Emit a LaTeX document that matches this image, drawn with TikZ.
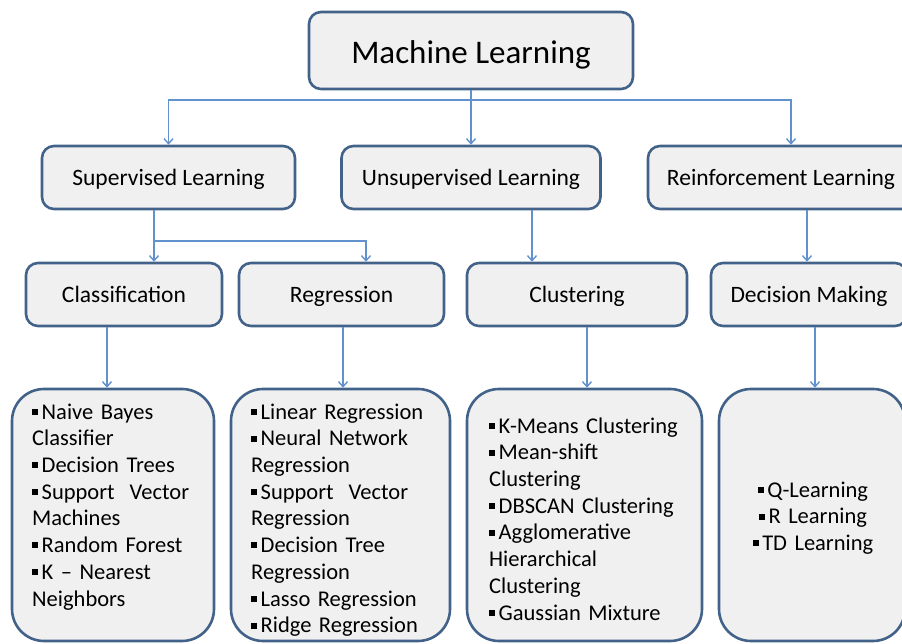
\documentclass[tikz,border=0pt]{standalone}
\usepackage{fontspec}
\setmainfont{Carlito}
\usetikzlibrary{arrows.meta}
\definecolor{boxline}{RGB}{66,98,138}
\definecolor{boxfill}{RGB}{240,240,240}
\definecolor{conncol}{RGB}{98,146,205}
\newcommand{\sqb}{\rule[4.2pt]{6pt}{6pt}\hspace{3.5pt}}
\begin{document}
\begin{tikzpicture}[x=1pt,y=-1pt,
  box/.style={draw=boxline, fill=boxfill, line width=2.6pt, rounded corners=12pt, inner sep=0pt, text=black},
  head/.style={box, minimum height=63pt, text height=18pt, text depth=2pt, font=\fontsize{23.5}{28}\selectfont},
  listbox/.style={box, rounded corners=32pt, minimum height=252pt},
  listtxt/.style={anchor=north west, inner sep=0pt, align=left, font=\fontsize{22.5}{26.7}\selectfont},
  conn/.style={draw=conncol, line width=1.4pt, -{Straight Barb[length=5pt,width=9pt]}},
  cline/.style={draw=conncol, line width=1.4pt}]
\useasboundingbox (0,0) rectangle (902,644);
\clip (0,0) rectangle (902,644);

% top node
\node[box, minimum width=324pt, minimum height=77pt, text height=28pt, text depth=2.4pt,
      font=\fontsize{33}{40}\selectfont] (ml) at (471,50.5) {Machine Learning};

% second level
\node[head, minimum width=253pt] (sup)  at (168.5,177.5) {Supervised Learning};
\node[head, minimum width=259pt] (uns)  at (471,177.5)   {Unsupervised Learning};
\node[head, minimum width=266pt] (rein) at (781,177.5)   {Reinforcement Learning};

% third level
\node[head, minimum width=196pt] (cls) at (124,294.5)   {Classification};
\node[head, minimum width=205pt] (reg) at (341.5,294.5) {Regression};
\node[head, minimum width=220pt] (clu) at (577,294.5)   {Clustering};
\node[head, minimum width=196pt] (dec) at (809,294.5)   {Decision Making};

% list boxes
\node[listbox, minimum width=202pt] (l1) at (113,515)   {};
\node[listbox, minimum width=219pt] (l2) at (340.5,515) {};
\node[listbox, minimum width=235pt] (l3) at (584.5,515) {};
\node[listbox, minimum width=186pt] (l4) at (812,515)   {};

% list texts
\node[listtxt, text width=185pt] (t1) at (32,400.3)
  {\strut\sqb Naive Bayes\\ Classifier\\ \sqb Decision Trees\\ \sqb Support\ \ Vector\\ Machines\\ \sqb Random Forest\\ \sqb K – Nearest\\ Neighbors};
\node[listtxt, text width=195pt] (t2) at (251,400.3)
  {\strut\sqb Linear Regression\\ \sqb Neural Network\\ Regression\\ \sqb Support\ \ Vector\\ Regression\\ \sqb Decision Tree\\ Regression\\ \sqb Lasso Regression\\ \sqb Ridge Regression};
\node[listtxt, text width=210pt] (t3) at (489,414.3)
  {\strut\sqb K-Means Clustering\\ \sqb Mean-shift\\ Clustering\\ \sqb DBSCAN Clustering\\ \sqb Agglomerative\\ Hierarchical\\ Clustering\\ \sqb Gaussian Mixture};
\node[listtxt, anchor=north, align=center, text width=170pt] (t4) at (813,478.3)
  {\strut\sqb Q-Learning\\ \sqb R Learning\\ \sqb TD Learning};

% connectors
\coordinate (t0) at (471,100);
\draw[cline] (ml.south) -- (t0);
\draw[conn] (t0) -| (sup.north);
\draw[conn] (t0) -- (uns.north);
\draw[conn] (t0) -| ([xshift=10pt]rein.north);

\coordinate (s0) at ([xshift=-14.5pt]sup.south);
\coordinate (sb) at (154,241);
\draw[conn] (s0) -- (s0 |- cls.north);
\draw[conn] (sb) -| ([xshift=24.5pt]reg.north);

\draw[conn] ([xshift=61pt]uns.south) -- ([xshift=-45pt]clu.north);
\draw[conn] ([xshift=26pt]rein.south) -- ([xshift=-2pt]dec.north);

\draw[conn] ([xshift=-17pt]cls.south) -- ([xshift=-6pt]l1.north);
\draw[conn] ([xshift=1.5pt]reg.south) -- ([xshift=2.5pt]l2.north);
\draw[conn] ([xshift=10pt]clu.south) -- ([xshift=2.5pt]l3.north);
\draw[conn] ([xshift=6pt]dec.south) -- ([xshift=3pt]l4.north);
\end{tikzpicture}
\end{document}
